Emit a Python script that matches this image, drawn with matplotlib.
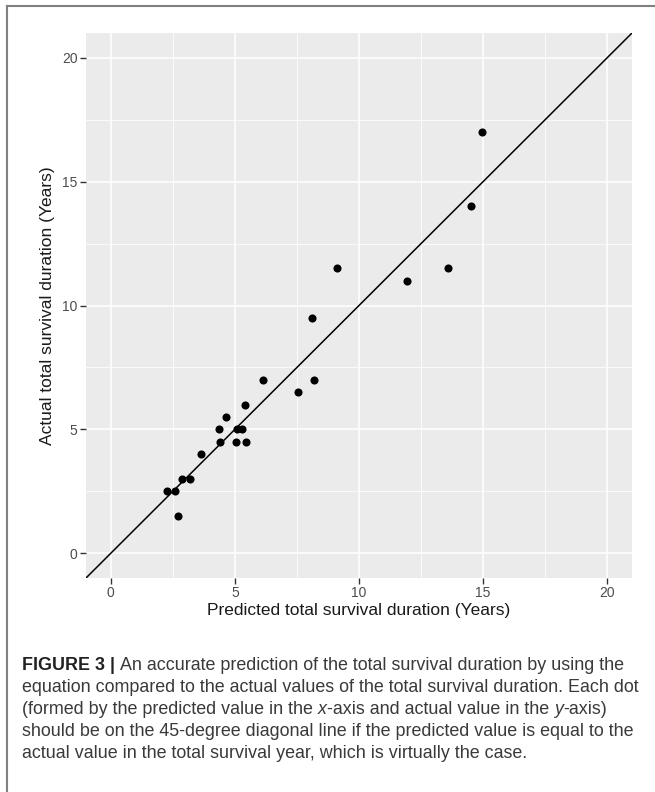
import matplotlib
matplotlib.use('Agg')
import matplotlib.pyplot as plt
from matplotlib.lines import Line2D

plt.rcParams['font.family'] = ['Liberation Sans', 'DejaVu Sans']

# predicted vs actual survival (years)
predicted = [14.95, 14.5, 13.6, 11.95, 9.1, 8.1, 6.15, 8.2, 7.55, 5.4, 4.65, 4.35,
             5.07, 5.27, 4.4, 5.06, 5.43, 3.64, 2.87, 3.2, 2.26, 2.57, 2.69]
actual = [17, 14, 11.5, 11, 11.5, 9.5, 7, 7, 6.5, 6, 5.5, 5,
          5, 5, 4.5, 4.5, 4.5, 4, 3, 3, 2.5, 2.5, 1.5]
ticks = [0, 5, 10, 15, 20]
minor_ticks = [2.5, 7.5, 12.5, 17.5]

caption_lines = [
    [("FIGURE 3 | ", "bold", "normal"),
     ("An accurate prediction of the total survival duration by using the", "normal", "normal")],
    [("equation compared to the actual values of the total survival duration. Each dot", "normal", "normal")],
    [("(formed by the predicted value in the ", "normal", "normal"), ("x", "normal", "italic"),
     ("-axis and actual value in the ", "normal", "normal"), ("y", "normal", "italic"),
     ("-axis)", "normal", "normal")],
    [("should be on the 45-degree diagonal line if the predicted value is equal to the", "normal", "normal")],
    [("actual value in the total survival year, which is virtually the case.", "normal", "normal")],
]

W, H = 655, 792
fig = plt.figure(figsize=(W / 100, H / 100), dpi=100)
ax = fig.add_axes([86 / W, 1 - 578 / H, (632 - 86) / W, (578 - 33) / H])
ax.set_facecolor('#EBEBEB')

ax.set_xlim(-1, 21)
ax.set_ylim(-1, 21)
ax.set_xticks(ticks)
ax.set_yticks(ticks)
ax.set_xticks(minor_ticks, minor=True)
ax.set_yticks(minor_ticks, minor=True)
ax.grid(which='major', color='white', lw=1.1)
ax.grid(which='minor', color='white', lw=0.55)
ax.set_axisbelow(True)
for s in ax.spines.values():
    s.set_visible(False)
ax.tick_params(which='major', length=4, width=1, color='#333333', labelcolor='#4D4D4D',
               labelsize=10, pad=2)
ax.tick_params(which='minor', length=0)

ax.axline((0, 0), slope=1, color='black', lw=1.1)
ax.scatter(predicted, actual, s=34, color='black', zorder=3, linewidths=0)

ax.set_xlabel('Predicted total survival duration (Years)', fontsize=12.5, color='#1A1A1A', labelpad=2)
ax.set_ylabel('Actual total survival duration (Years)', fontsize=12.5, color='#1A1A1A', labelpad=5)

# frame lines (top and left)
fig.add_artist(Line2D([7 / W, 1], [1 - 6 / H, 1 - 6 / H], color='#808080', lw=1.5))
fig.add_artist(Line2D([7 / W, 7 / W], [0, 1 - 6 / H], color='#808080', lw=1.5))

# caption, drawn segment by segment
renderer = fig.canvas.get_renderer()
y0 = 666
for i, line in enumerate(caption_lines):
    x = 22
    y = 1 - (y0 + 22 * i) / H
    for txt, weight, style in line:
        t = fig.text(x / W, y, txt, fontsize=12.9, fontweight=weight, fontstyle=style,
                     color='#222222' if weight == 'bold' else '#3A3A3A', va='center', ha='left')
        x += t.get_window_extent(renderer).width

fig.savefig('out.png', dpi=100)
